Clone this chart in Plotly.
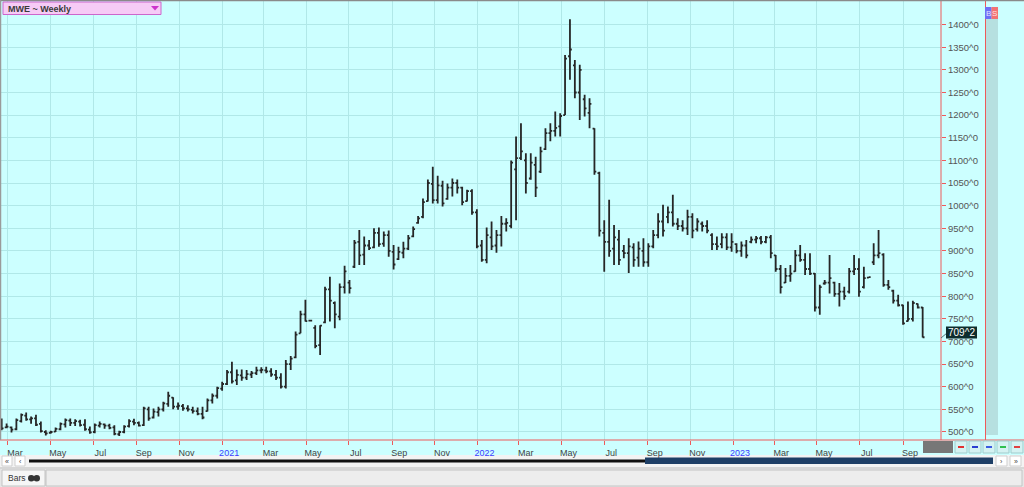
import plotly.graph_objects as go
import pandas as pd

# ---------------- data (weekly OHLC, MWE) ----------------
high = [530,519,512,530,541,543,534,538,523,504,
        503,510,521,530,530,528,527,528,512,519,
        523,519,518,515,503,515,528,529,523,556,
        556,552,556,567,589,577,565,562,559,556,
        554,556,574,585,600,611,637,655,638,638,
        637,635,644,643,644,641,637,630,659,668,
        722,768,792,748,736,736,821,843,788,828,
        867,836,924,946,932,924,950,952,943,945,
        913,909,920,935,954,977,1016,1058,1086,1066,
        1055,1049,1060,1058,1042,1035,1036,992,924,952,
        965,946,977,972,1100,1153,1182,1116,1116,1108,
        1130,1171,1182,1208,1204,1333,1412,1322,1311,1245,
        1237,1171,1075,968,1013,957,946,913,928,917,
        921,928,917,946,983,1002,998,1024,972,968,
        991,983,972,965,968,939,932,939,939,939,
        917,921,924,932,933,933,933,935,891,869,
        862,869,902,913,895,895,851,825,836,891,
        832,829,821,862,891,884,865,843,917,946,
        895,836,814,803,781,788,790,784,776]
low = [504,508,499,504,521,525,518,513,499,492,
       496,500,504,510,513,513,512,503,496,497,
       510,507,506,493,491,497,510,515,512,513,
       525,530,534,545,556,550,549,547,545,541,
       537,528,545,563,574,591,604,607,604,613,
       615,619,626,630,630,622,615,596,596,637,
       663,718,744,744,685,670,740,744,729,747,
       806,806,862,869,869,902,906,909,909,887,
       859,880,884,902,930,960,972,1009,1005,1005,
       998,1013,1020,1027,1001,1009,980,906,876,873,
       902,896,910,943,950,968,1101,1027,1057,1019,
       1072,1123,1142,1153,1153,1200,1278,1237,1189,1197,
       1171,1068,932,854,887,869,869,884,851,865,
       865,865,865,906,928,932,961,954,946,943,
       935,928,943,943,939,902,902,906,902,898,
       895,887,884,917,917,915,917,884,854,806,
       829,832,854,876,847,847,766,759,825,806,
       799,777,792,806,847,799,817,840,869,884,
       821,814,784,777,737,744,744,773,709]
open_ = [525,510,510,506,524,536,528,530,518,500,
         498,501,506,517,525,520,523,516,505,500,
         514,517,514,510,495,500,513,523,520,515,
         550,532,544,550,562,576,556,557,552,549,
         546,540,546,570,580,596,606,632,614,625,
         620,627,630,636,636,634,626,620,600,650,
         665,718,760,746,730,692,742,815,785,755,
         820,830,865,920,892,912,908,940,916,935,
         898,882,896,905,932,962,975,1010,1048,1012,
         1044,1015,1040,1050,1040,1010,1032,985,912,880,
         930,912,935,960,955,1080,1105,1100,1060,1090,
         1075,1125,1160,1165,1175,1200,1330,1310,1250,1235,
         1205,1170,1072,940,920,905,925,900,895,908,
         885,900,875,910,935,965,975,985,960,955,
         950,975,948,960,955,935,915,915,930,908,
         915,900,912,920,925,928,920,930,890,860,
         830,845,855,890,880,860,850,775,828,830,
         830,805,810,810,855,860,820,841,875,890,
         892,825,812,790,780,745,750,783,775]
close = [508,512,505,526,538,528,530,516,502,497,
         500,507,518,526,520,524,515,506,499,515,
         518,514,509,496,500,512,524,520,514,552,
         530,545,550,563,580,556,558,552,550,546,
         540,532,570,580,597,606,632,612,626,620,
         628,630,636,637,634,627,620,600,650,662,
         715,760,745,746,690,735,815,790,760,820,
         855,818,918,890,912,906,940,915,935,900,
         870,898,905,928,948,972,1008,1050,1012,1045,
         1005,1040,1050,1040,1008,1032,985,910,880,935,
         910,935,960,962,1095,1105,1120,1050,1095,1040,
         1120,1160,1165,1172,1198,1325,1345,1250,1300,1215,
         1225,1075,945,920,900,930,880,895,910,880,
         905,875,910,935,965,945,985,960,955,950,
         975,945,965,955,945,915,910,930,908,920,
         900,912,890,925,928,920,930,895,860,820,
         845,850,890,880,860,850,775,820,830,840,
         805,810,800,855,860,810,840,842,890,895,
         825,820,790,780,740,750,785,775,709.25]
dates = pd.date_range("2020-02-21", periods=len(high), freq="7D")

tick_dates = ["2020-03-01", "2020-05-01", "2020-07-01", "2020-09-01", "2020-11-01",
              "2021-01-01", "2021-03-01", "2021-05-01", "2021-07-01", "2021-09-01", "2021-11-01",
              "2022-01-01", "2022-03-01", "2022-05-01", "2022-07-01", "2022-09-01", "2022-11-01",
              "2023-01-01", "2023-03-01", "2023-05-01", "2023-07-01", "2023-09-01"]
tick_labels = ["Mar", "May", "Jul", "Sep", "Nov",
               "2021", "Mar", "May", "Jul", "Sep", "Nov",
               "2022", "Mar", "May", "Jul", "Sep", "Nov",
               "2023", "Mar", "May", "Jul", "Sep"]
year_labels = ["2021", "2022", "2023"]
price_ticks = [500, 550, 600, 650, 700, 750, 800, 850, 900, 950,
               1000, 1050, 1100, 1150, 1200, 1250, 1300, 1350, 1400]
last_label = "709^2"
title_text = "MWE ~ Weekly"

# ---------------- layout helpers ----------------
W, H = 1024, 487
def fx(x):
    return x / W
def fy(y):
    return 1 - y / H

BG = "#ccffff"
GRID = "#b0e8e8"
RED = "#ee5a5a"
FONT = "Liberation Sans, Arial, sans-serif"

ticktext = [f'<span style="color:#3b3bff">{t}</span>' if t in year_labels else t
            for t in tick_labels]

fig = go.Figure()
fig.add_trace(go.Ohlc(
    x=dates, open=open_, high=high, low=low, close=close,
    increasing=dict(line=dict(color="#262626", width=1.8)),
    decreasing=dict(line=dict(color="#262626", width=1.8)),
    tickwidth=0.38, showlegend=False, hoverinfo="skip"))

shapes = []
def rect(x0, y0, x1, y1, fill, line=None, lw=1, layer="above"):
    shapes.append(dict(type="rect", xref="paper", yref="paper",
                       x0=fx(x0), x1=fx(x1), y0=fy(y1), y1=fy(y0),
                       fillcolor=fill, line=dict(color=line or fill, width=lw if line else 0),
                       layer=layer))
def line(x0, y0, x1, y1, color, lw=1, layer="above"):
    shapes.append(dict(type="line", xref="paper", yref="paper",
                       x0=fx(x0), x1=fx(x1), y0=fy(y0), y1=fy(y1),
                       line=dict(color=color, width=lw), layer=layer))

# right side scroll column + B/S
rect(986, 8, 998, 435, "#b6e0e0", layer="below")
line(985.5, 0, 985.5, 440, RED, 1)
rect(985, 7, 991.5, 19, "#6f6ff5")
rect(991.5, 7, 998, 19, "#f27272")
# bottom x-axis line across full width
line(0, 440, 1024, 440, RED, 1)
line(941, 0, 941, 440, RED, 1)
# top / left border
line(0, 0.5, 1024, 0.5, "#8a8a8a", 1.5)
line(0.5, 0, 0.5, 440, "#9a9a9a", 1.5)
# dark gray box and buttons bottom right
rect(923, 441, 953, 453, "#777777")
btn_colors = ["#e03030", "#2a3fd0", "#3a5ae0", "#30c050", "#e04040"]
for k, c in enumerate(btn_colors):
    bx = 955 + k * 14
    rect(bx, 441, bx + 12, 453, "#d4f2f2", "#a0cccc", 1)
    line(bx + 3, 447, bx + 9, 447, c, 2)
# scroll row
rect(0, 455, 1024, 467, "#f3f3f3", layer="below")
rect(2, 456, 12, 466, "#ffffff", "#cfcfcf", 1)
rect(15, 456, 25, 466, "#ffffff", "#cfcfcf", 1)
rect(996, 456, 1007, 466, "#ffffff", "#cfcfcf", 1)
rect(1010, 456, 1021, 466, "#ffffff", "#cfcfcf", 1)
line(29, 461, 646, 461, "#111111", 3)
rect(645, 457.5, 993, 464, "#1e3f66")
# bottom tab row
rect(0, 467, 1024, 487, "#e6e6e6", layer="below")
line(0, 468, 1024, 468, "#c8c8c8", 1)
rect(46, 470, 1022, 486, "#ededed", "#c4c4c4", 1)
rect(2, 470, 45, 486, "#f6f6f6", "#c4c4c4", 1)
shapes.append(dict(type="circle", xref="paper", yref="paper",
                   x0=fx(28), x1=fx(34.5), y0=fy(481.5), y1=fy(475), fillcolor="#333333",
                   line=dict(width=0)))
shapes.append(dict(type="circle", xref="paper", yref="paper",
                   x0=fx(33.5), x1=fx(40), y0=fy(481.5), y1=fy(475), fillcolor="#333333",
                   line=dict(width=0)))
# title box
rect(3, 2, 161, 14.5, "#f6cbf6", "#cc66cc", 1)
shapes.append(dict(type="path", xref="paper", yref="paper",
                   path=f"M {fx(151)} {fy(6)} L {fx(159)} {fy(6)} L {fx(155)} {fy(10.5)} Z",
                   fillcolor="#cc33cc", line=dict(width=0)))
# last price pointer
line(941, 338, 947, 333, "#557777", 1)
rect(946, 326.5, 977, 338.5, "#0d2d2d")

annotations = [
    dict(text=f"<b>{title_text}</b>", xref="paper", yref="paper", x=fx(6), y=fy(8.5),
         xanchor="left", yanchor="middle", showarrow=False,
         font=dict(family=FONT, size=9, color="#3a3a3a"), ),
    dict(text=last_label, xref="paper", yref="paper", x=fx(961.5), y=fy(332.5),
         xanchor="center", yanchor="middle", showarrow=False,
         font=dict(family=FONT, size=10, color="#ffffff")),
    dict(text="B", xref="paper", yref="paper", x=fx(988.2), y=fy(13), showarrow=False,
         xanchor="center", yanchor="middle", font=dict(family=FONT, size=8, color="#e0e0ff")),
    dict(text="S", xref="paper", yref="paper", x=fx(994.8), y=fy(13), showarrow=False,
         xanchor="center", yanchor="middle", font=dict(family=FONT, size=8, color="#ffe0e0")),
    dict(text="Bars", xref="paper", yref="paper", x=fx(6), y=fy(478), showarrow=False,
         xanchor="left", yanchor="middle", font=dict(family=FONT, size=8.5, color="#333333")),
    dict(text="«", xref="paper", yref="paper", x=fx(7), y=fy(461), showarrow=False,
         xanchor="center", yanchor="middle", font=dict(family=FONT, size=7, color="#444444")),
    dict(text="‹", xref="paper", yref="paper", x=fx(20), y=fy(461), showarrow=False,
         xanchor="center", yanchor="middle", font=dict(family=FONT, size=7, color="#444444")),
    dict(text="›", xref="paper", yref="paper", x=fx(1001.5), y=fy(461), showarrow=False,
         xanchor="center", yanchor="middle", font=dict(family=FONT, size=7, color="#444444")),
    dict(text="»", xref="paper", yref="paper", x=fx(1015.5), y=fy(461), showarrow=False,
         xanchor="center", yanchor="middle", font=dict(family=FONT, size=7, color="#444444")),
]

fig.update_layout(
    width=W, height=H,
    margin=dict(l=0, r=0, t=0, b=0),
    paper_bgcolor=BG, plot_bgcolor=BG,
    showlegend=False,
    shapes=shapes, annotations=annotations,
    xaxis=dict(
        domain=[0, 941 / W],
        type="date",
        range=["2020-02-18 14:00", "2023-10-25 05:00"],
        rangeslider=dict(visible=False),
        tickmode="array", tickvals=tick_dates, ticktext=ticktext,
        ticks="outside", ticklen=4, tickcolor=RED, tickwidth=1,
        ticklabelshift=7,
        showgrid=True, gridcolor=GRID, gridwidth=1,
        showline=False, zeroline=False,
        tickfont=dict(family=FONT, size=9, color="#444444"),
        fixedrange=True,
    ),
    yaxis=dict(
        domain=[1 - 440 / H, 1],
        side="right",
        range=[482.3, 1454.3],
        tickmode="array", tickvals=price_ticks,
        ticktext=[f"{v}^0" for v in price_ticks],
        ticks="outside", ticklen=4, tickcolor=RED, tickwidth=1,
        showgrid=True, gridcolor=GRID, gridwidth=1,
        showline=False, zeroline=False,
        tickfont=dict(family=FONT, size=9.5, color="#555555"),
        fixedrange=True,
    ),
)

fig.write_html(
    "out.html",
    config={"displayModeBar": False, "staticPlot": True},
    post_script="document.body.style.margin='0';document.body.style.overflow='hidden';",
)
